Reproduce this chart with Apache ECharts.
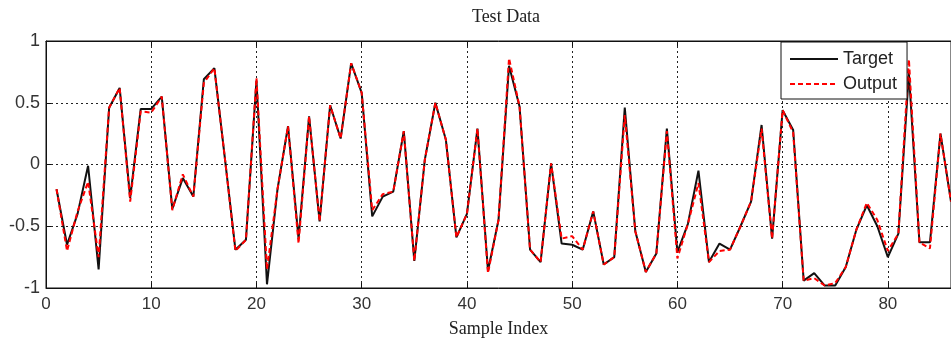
<!DOCTYPE html>
<html>
<head>
<meta charset="utf-8">
<script src="https://cdn.jsdelivr.net/npm/echarts@6/dist/echarts.min.js"></script>
<style>
  html, body { margin: 0; padding: 0; background: #fff; }
  #chart { width: 951px; height: 345px; }
</style>
</head>
<body>
<div id="chart"></div>
<script>
// values, sample 1..86
var target = [-0.2, -0.65, -0.4, -0.01, -0.85, 0.46, 0.62, -0.27, 0.45, 0.45,
  0.55, -0.36, -0.11, -0.26, 0.69, 0.78, 0.05, -0.69, -0.61, 0.68,
  -0.97, -0.2, 0.31, -0.6, 0.39, -0.46, 0.48, 0.21, 0.82, 0.58,
  -0.42, -0.26, -0.22, 0.27, -0.78, 0.04, 0.5, 0.2, -0.59, -0.4,
  0.29, -0.86, -0.45, 0.8, 0.47, -0.69, -0.79, 0.01, -0.64, -0.65,
  -0.69, -0.38, -0.81, -0.75, 0.46, -0.54, -0.87, -0.72, 0.29, -0.71,
  -0.48, -0.05, -0.79, -0.64, -0.69, -0.5, -0.3, 0.32, -0.6, 0.44,
  0.28, -0.94, -0.88, -0.98, -0.98, -0.83, -0.53, -0.33, -0.5, -0.75,
  -0.56, 0.74, -0.63, -0.63, 0.25, -0.3];
var output = [-0.2, -0.7, -0.38, -0.14, -0.75, 0.46, 0.62, -0.3, 0.43, 0.42,
  0.55, -0.37, -0.08, -0.26, 0.66, 0.78, 0.05, -0.7, -0.61, 0.7,
  -0.85, -0.2, 0.31, -0.64, 0.39, -0.46, 0.48, 0.21, 0.82, 0.58,
  -0.37, -0.24, -0.22, 0.27, -0.78, 0.04, 0.5, 0.2, -0.59, -0.4,
  0.29, -0.88, -0.45, 0.86, 0.47, -0.69, -0.79, 0.01, -0.6, -0.58,
  -0.69, -0.38, -0.81, -0.75, 0.4, -0.54, -0.87, -0.72, 0.27, -0.76,
  -0.48, -0.15, -0.79, -0.7, -0.69, -0.5, -0.3, 0.29, -0.6, 0.44,
  0.26, -0.94, -0.92, -0.98, -0.96, -0.83, -0.53, -0.31, -0.45, -0.7,
  -0.56, 0.85, -0.63, -0.68, 0.25, -0.3];

var toPairs = function(arr){
  var res = [];
  for (var i = 0; i < arr.length; i++) res.push([i + 1, arr[i]]);
  return res;
};

var chart = echarts.init(document.getElementById('chart'));
var gridLine = { show: true, lineStyle: { color: '#222', type: [2, 3], width: 1 } };

var option = {
  animation: false,
  title: {
    text: 'Test Data', left: 501, top: 3, textAlign: 'center',
    textStyle: { fontFamily: 'Liberation Serif, Times New Roman, serif', fontWeight: 'normal', fontSize: 18, color: '#222' }
  },
  legend: {
    orient: 'vertical', left: 781, top: 42, width: 123,
    padding: [8, 10, 6, 8], itemGap: 7, itemWidth: 48, itemHeight: 14,
    backgroundColor: '#fff', borderColor: '#111', borderWidth: 1,
    itemStyle: { opacity: 0 },
    textStyle: { fontSize: 18, color: '#222', fontFamily: 'Liberation Sans, Arial' },
    data: ['Target', 'Output']
  },
  grid: { left: 46, top: 41, bottom: 57, right: -7, show: true, borderColor: '#111', borderWidth: 1 },
  xAxis: [{
    type: 'value', min: 0, max: 86, interval: 10,
    name: 'Sample Index', nameLocation: 'middle', nameGap: 32,
    nameTextStyle: { fontFamily: 'Liberation Serif, Times New Roman, serif', fontSize: 18, color: '#222' },
    axisLine: { onZero: false, lineStyle: { color: '#111' } },
    axisTick: { inside: true, length: 5, lineStyle: { color: '#111' } },
    axisLabel: { margin: 8, showMaxLabel: false, fontSize: 17, color: '#333', fontFamily: 'Liberation Sans Narrow, Liberation Sans, Arial' },
    splitLine: gridLine
  }, {
    type: 'value', position: 'top', min: 0, max: 86, interval: 10,
    axisLine: { onZero: false, lineStyle: { color: '#111' } },
    axisTick: { inside: true, length: 5, lineStyle: { color: '#111' } },
    axisLabel: { show: false }, splitLine: { show: false }
  }],
  yAxis: {
    type: 'value', min: -1, max: 1, interval: 0.5,
    axisLine: { show: true, onZero: false, lineStyle: { color: '#111' } },
    axisTick: { show: true, inside: true, length: 5, lineStyle: { color: '#111' } },
    axisLabel: { margin: 6, fontSize: 18, color: '#333', fontFamily: 'Liberation Sans, Arial' },
    splitLine: gridLine
  },
  series: [{
    name: 'Target', type: 'line', data: toPairs(target),
    symbol: 'none', clip: true,
    lineStyle: { color: '#111', width: 2 }, itemStyle: { color: '#111' }
  }, {
    name: 'Output', type: 'line', data: toPairs(output),
    symbol: 'none', clip: true,
    lineStyle: { color: '#ff0000', width: 2, type: [5, 3] }, itemStyle: { color: '#ff0000' }
  }]
};
chart.setOption(option);
</script>
</body>
</html>
